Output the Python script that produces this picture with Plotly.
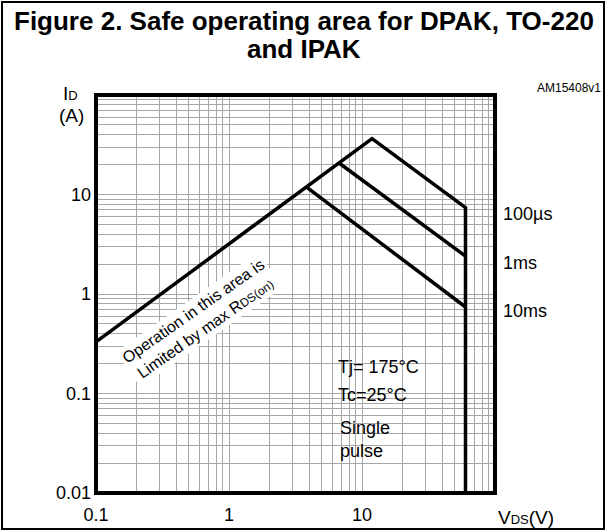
import plotly.graph_objects as go

# ---- data ----
# 100 us curve (incl. RDS(on) limit line and the 60 V vertical limit)
v_100us = [0.1, 11.9, 60, 60]
i_100us = [0.33, 36.5, 7.4, 0.01]
v_1ms = [6.8, 60]
i_1ms = [20.5, 2.4]
v_10ms = [3.85, 60]
i_10ms = [11.8, 0.74]

curve_names = ["100µs", "1ms", "10ms"]

x_grid = [m * 10 ** e for e in (-1, 0, 1) for m in range(1, 10)] + [100]
y_grid = [m * 10 ** e for e in (-2, -1, 0, 1) for m in range(1, 10)] + [100]
x_labels = {0.1: "0.1", 1: "1", 10: "10"}
y_labels = {0.01: "0.01", 0.1: "0.1", 1: "1", 10: "10"}

FONT = "Liberation Sans, Arial, sans-serif"
W, H = 606, 532
L, R, T, B = 96, 111, 95, 39
pw, ph = W - L - R, H - T - B


def px(x):
    return (x - L) / pw


def py(y):
    return (H - B - y) / ph


fig = go.Figure()
for v, i, n in zip([v_100us, v_1ms, v_10ms], [i_100us, i_1ms, i_10ms], curve_names):
    fig.add_trace(go.Scatter(x=v, y=i, mode="lines", name=n,
                             line=dict(color="black", width=3.5),
                             showlegend=False, hoverinfo="skip"))

grid_col = "#a6a6a6"
TICKFONT = dict(family=FONT, size=18, color="black")
fig.update_xaxes(type="log", range=[-1, 2], tickvals=x_grid,
                 ticktext=[x_labels.get(round(v, 6), "") for v in x_grid],
                 showgrid=True, gridcolor=grid_col, gridwidth=1.3,
                 showline=False, ticks="", tickfont=TICKFONT,
                 ticklabelstandoff=9, zeroline=False, automargin=False)
fig.update_yaxes(type="log", range=[-2, 2], tickvals=y_grid,
                 ticktext=[y_labels.get(round(v, 6), "") for v in y_grid],
                 showgrid=True, gridcolor=grid_col, gridwidth=1.3,
                 showline=False, ticks="", tickfont=TICKFONT,
                 ticklabelstandoff=4, zeroline=False, automargin=False)

shapes = [
    # white box behind conditions text
    dict(type="rect", xref="paper", yref="paper", x0=px(309), x1=px(421),
         y0=py(476), y1=py(345), fillcolor="white", line=dict(width=0),
         layer="between"),
    # plot frame
    dict(type="rect", xref="paper", yref="paper", x0=0, x1=1, y0=0, y1=1,
         line=dict(color="black", width=4), layer="above"),
    # outer frame
    dict(type="rect", xref="paper", yref="paper", x0=px(2), x1=px(604),
         y0=py(529), y1=py(2), line=dict(color="black", width=2),
         layer="above"),
]

ann = []
def A(text, x, y, size=18, xa="center", ya="middle", **kw):
    ann.append(dict(text=text, x=px(x), y=py(y), xref="paper", yref="paper",
                    xanchor=xa, yanchor=ya, showarrow=False,
                    font=dict(family=FONT, size=size, color="black"), **kw))

A("<b>Figure 2. Safe operating area for DPAK, TO-220</b>", 304, 21, size=26)
A("<b>and IPAK</b>", 304, 49, size=26)
A("AM15408v1", 603, 88, size=12, xa="right")
A("I<span style='font-size:13px'>D</span>", 61, 93, size=19, xa="left")
A("(A)", 57, 116, size=19, xa="left")
A("V<span style='font-size:13px'>DS</span>(V)", 496, 517, size=19, xa="left")
A("100µs", 501, 214, xa="left")
A("1ms", 501, 263, xa="left")
A("10ms", 501, 311, xa="left")
A("Tj= 175°C", 336, 367, xa="left")
A("Tc=25°C", 336, 395, xa="left")
A("Single<br>pulse", 338, 439, xa="left", align="left")
A("Operation in this area is<br>Limited by max R<span style='font-size:12px'>DS(on)</span>",
  199, 320, size=16, textangle=-35, bgcolor="white", borderpad=2)

fig.update_layout(width=W, height=H, margin=dict(l=L, r=R, t=T, b=B, autoexpand=False),
                  plot_bgcolor="white", paper_bgcolor="white",
                  shapes=shapes, annotations=ann,
                  font=dict(family=FONT, color="black"))
fig.write_html("out.html", config={"displayModeBar": False},
               post_script="document.body.style.margin='0px';")
